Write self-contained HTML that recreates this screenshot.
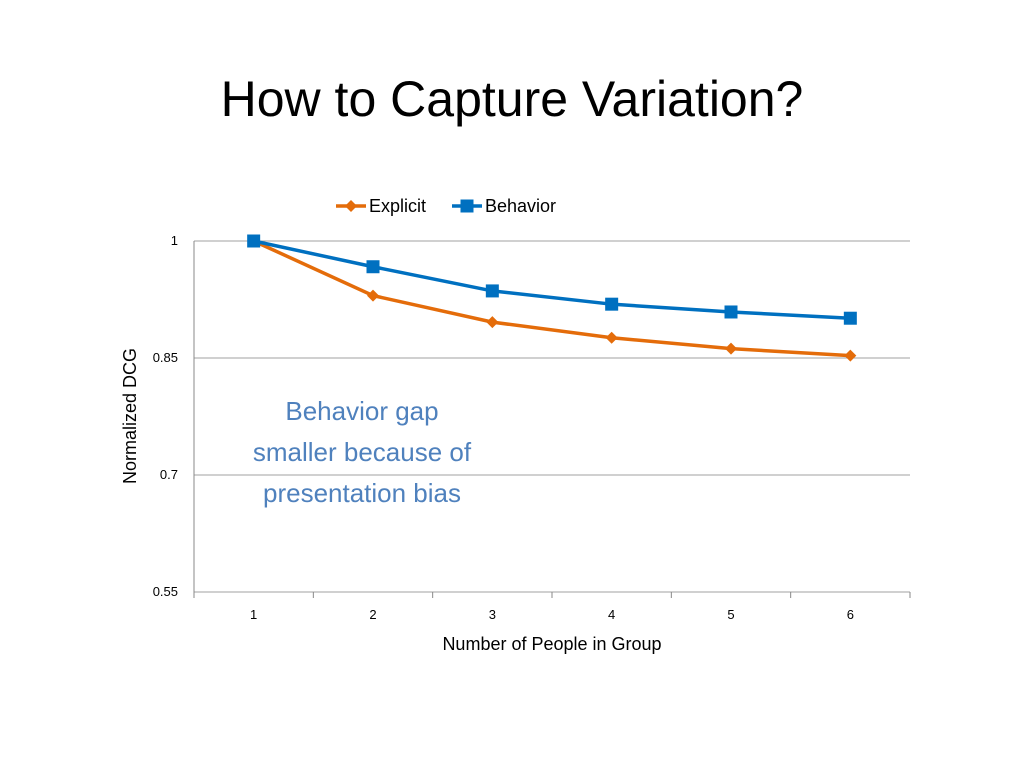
<!DOCTYPE html>
<html><head><meta charset="utf-8"><style>
body{margin:0;background:#fff;font-family:"Liberation Sans",sans-serif;}
</style></head><body>
<svg width="1024" height="768" xmlns="http://www.w3.org/2000/svg">
<text x="512" y="116" text-anchor="middle" font-size="50" fill="#000">How to Capture Variation?</text>
<g id="chart"></g>
<text x="362" y="420" text-anchor="middle" font-size="26" fill="#4f81bd">Behavior gap</text>
<text x="362" y="461" text-anchor="middle" font-size="26" fill="#4f81bd">smaller because of</text>
<text x="362" y="502" text-anchor="middle" font-size="26" fill="#4f81bd">presentation bias</text>
</svg>
<script>
const categories=[1,2,3,4,5,6];
const explicitValues=[1,0.93,0.896,0.876,0.862,0.853];
const behaviorValues=[1,0.967,0.936,0.919,0.909,0.901];
const yTicks=[0.55,0.7,0.85,1];
const yTickLabels=["0.55","0.7","0.85","1"];
const NS="http://www.w3.org/2000/svg";
const g=document.getElementById('chart');
const L=194,R=910,T=241,B=592,ymin=0.55,ymax=1;
const y=v=>B-(v-ymin)/(ymax-ymin)*(B-T);
const step=(R-L)/categories.length;
const x=i=>L+step*(i+0.5);
function mk(t,a,p){const e=document.createElementNS(NS,t);for(const k in a)e.setAttribute(k,a[k]);(p||g).appendChild(e);return e;}
yTicks.forEach((v,i)=>{
 const l=mk('line',{x1:L,x2:R,y1:y(v),y2:y(v),stroke:'#a0a0a0','stroke-width':1});
 
 
 const t=mk('text',{x:L-16,y:y(v)+4,'text-anchor':'end','font-size':13,fill:'#000'});
 t.textContent=yTickLabels[i];
 
 
});
const ax=mk('line',{x1:L,x2:L,y1:T,y2:B,stroke:'#888'});


for(let i=0;i<=categories.length;i++){
 const tk=mk('line',{x1:L+step*i,x2:L+step*i,y1:B,y2:B+6,stroke:'#888'});
 
 
}
categories.forEach((c,i)=>{
 const t=mk('text',{x:x(i),y:619,'text-anchor':'middle','font-size':13});
 t.textContent=c;
 
 
});
const xt=mk('text',{x:552,y:650,'text-anchor':'middle','font-size':18});
xt.textContent='Number of People in Group';


const yt=mk('text',{x:0,y:0,'text-anchor':'middle','font-size':18,transform:'translate(136,416) rotate(-90)'});
yt.textContent='Normalized DCG';


function series(vals,color,shape,name){
 const pl=mk('polyline',{points:vals.map((v,i)=>x(i)+','+y(v)).join(' '),fill:'none',stroke:color,'stroke-width':3.5});
 
 
 vals.forEach((v,i)=>{
  let m;
  if(shape==='sq') m=mk('rect',{x:x(i)-6.5,y:y(v)-6.5,width:13,height:13,fill:color});
  else m=mk('polygon',{points:`${x(i)},${y(v)-6} ${x(i)+6},${y(v)} ${x(i)},${y(v)+6} ${x(i)-6},${y(v)}`,fill:color});
  
  
 });
}
series(explicitValues,'#e46c0a','dia','explicit');
series(behaviorValues,'#0070c0','sq','behavior');
// legend
const le=mk('line',{x1:336,x2:366,y1:206,y2:206,stroke:'#e46c0a','stroke-width':3.5});


const ld=mk('polygon',{points:'351,200 357,206 351,212 345,206',fill:'#e46c0a'});


const lt1=mk('text',{x:369,y:212,'font-size':18});
lt1.textContent='Explicit';


const lb=mk('line',{x1:452,x2:482,y1:206,y2:206,stroke:'#0070c0','stroke-width':3.5});


const lr=mk('rect',{x:460.5,y:199.5,width:13,height:13,fill:'#0070c0'});


const lt2=mk('text',{x:485,y:212,'font-size':18});
lt2.textContent='Behavior';


</script>
</body></html>
